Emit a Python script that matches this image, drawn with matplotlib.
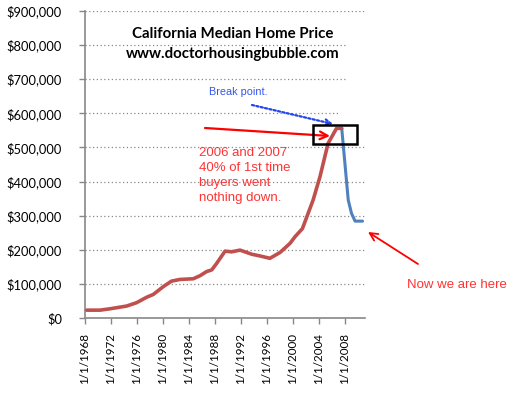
import matplotlib
matplotlib.use('Agg')
import matplotlib.pyplot as plt
from matplotlib.ticker import FuncFormatter
from matplotlib.patches import Rectangle

# 数据
red_years = [1968.26, 1970.3, 1971.85, 1974.4, 1975.95, 1977.5, 1978.5, 1980.05,
             1981.3, 1982.6, 1984.65, 1985.7, 1986.7, 1987.5, 1988.25, 1989.55,
             1990.55, 1991.85, 1993.65, 1994.9, 1996.45, 1998.0, 1999.55, 2000.3,
             2001.45, 2003.1, 2004.15, 2005.4, 2006.7, 2007.5]
red_prices = [23000, 23000, 27000, 35000, 45000, 61000, 69000, 92000,
              108000, 113000, 115000, 124000, 136000, 141000, 160000, 196000,
              194000, 199000, 187000, 182000, 175000, 192000, 219000, 238000,
              262000, 346000, 414000, 512000, 556000, 556000]
blue_years = [2007.5, 2008.5, 2009.0, 2009.55, 2010.7]
blue_prices = [556000, 346000, 307000, 284000, 284000]
tick_years = list(range(1968, 2009, 4))
tick_labels = ['1/1/%d' % y for y in tick_years]

W, H = 515, 398
fig = plt.figure(figsize=(W / 100, H / 100), dpi=100)
ax = fig.add_axes([85 / W, 80 / H, 280 / W, 307 / H])

ax.plot(red_years, red_prices, color='#c0504d', lw=2.6, solid_capstyle='round', zorder=4)
ax.plot(blue_years, blue_prices, color='#4f81bd', lw=2.2, solid_capstyle='round', zorder=3)

ax.set_xlim(1968, 2011.08)
ax.set_ylim(0, 900000)
ax.set_yticks(range(0, 900001, 100000))
ax.yaxis.set_major_formatter(FuncFormatter(lambda v, p: '${:,.0f}'.format(v)))
ax.set_xticks(tick_years)
ax.set_xticklabels(tick_labels, rotation=90, va='top', ha='center')

for lab in ax.get_yticklabels():
    lab.set_family('Lato')
    lab.set_fontsize(9.3)
for lab in ax.get_xticklabels():
    lab.set_family('Lato')
    lab.set_fontsize(8.4)
ax.tick_params(axis='both', colors='#888888', labelcolor='black', length=4.5, width=1)
ax.tick_params(axis='y', pad=12)
ax.tick_params(axis='x', pad=6)

ax.grid(axis='y', color='#888888', linestyle=(0, (1, 2)), lw=0.9)
ax.set_axisbelow(True)
for s in ['top', 'right']:
    ax.spines[s].set_visible(False)
for s in ['left', 'bottom']:
    ax.spines[s].set_color('#888888')
    ax.spines[s].set_linewidth(1.2)

# 遮住部分网格线（原图中被文本框覆盖）
for x0, y0, w, h in [(347, 398 - 105, 20, 70), (339, 398 - 118, 28, 10)]:
    fig.add_artist(Rectangle((x0, y0), w, h, transform=None, facecolor='white',
                             edgecolor='none', zorder=2))

# 标题
fig.text(233 / W, 1 - 34 / H, 'California Median Home Price', family='Lato',
         weight='bold', fontsize=10.8, ha='center', va='center')
fig.text(233 / W, 1 - 54 / H, 'www.doctorhousingbubble.com', family='Lato',
         weight='bold', fontsize=10.8, ha='center', va='center')

# 注释
fig.text(209 / W, 1 - 92 / H, 'Break point.', family='Liberation Sans',
         fontsize=7.8, color='#3355ee', ha='left', va='center')
ax.annotate('', xy=(333, H - 124), xytext=(252, H - 105), xycoords='figure pixels',
            textcoords='figure pixels',
            arrowprops=dict(arrowstyle='->', color='#2244ee', lw=1.6,
                            linestyle=(0, (1, 1)), shrinkA=0, shrinkB=0))
ax.annotate('', xy=(330, H - 136), xytext=(205, H - 128), xycoords='figure pixels',
            textcoords='figure pixels',
            arrowprops=dict(arrowstyle='->', color='red', lw=1.6,
                            shrinkA=0, shrinkB=0, mutation_scale=14))
fig.add_artist(Rectangle((313, H - 144), 44, 19, transform=None, fill=False,
                         edgecolor='black', lw=1.8, zorder=5))
fig.text(199 / W, 1 - 147 / H, '2006 and 2007\n40% of 1st time\nbuyers went\nnothing down.',
         family='Liberation Sans', fontsize=9.5, color='#ff3333', ha='left', va='top',
         linespacing=1.32)
ax.annotate('', xy=(368, H - 232), xytext=(418, H - 264), xycoords='figure pixels',
            textcoords='figure pixels',
            arrowprops=dict(arrowstyle='->', color='red', lw=1.3,
                            shrinkA=0, shrinkB=0, mutation_scale=14))
fig.text(407 / W, 1 - 285 / H, 'Now we are here', family='Liberation Sans',
         fontsize=9.5, color='#ff3333', ha='left', va='center')

fig.savefig('out.png', dpi=100)
